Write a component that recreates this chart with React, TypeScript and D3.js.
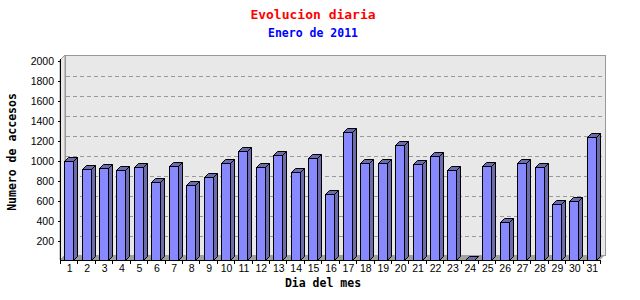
import React from "react";
import * as d3 from "d3";

const days = Array.from({ length: 31 }, (_, i) => String(i + 1));
const visits = [1000, 917, 927, 907, 937, 787, 947, 757, 837, 977, 1097, 937, 1057, 887, 1027, 667, 1287, 977, 977, 1157, 967, 1047, 907, 5, 947, 387, 977, 937, 567, 597, 1237];
const yTicks = [200, 400, 600, 800, 1000, 1200, 1400, 1600, 1800, 2000];
const title = "Evolucion diaria";
const subtitle = "Enero de 2011";
const yTitle = "Numero de accesos";
const xTitle = "Dia del mes";

const W = 640, H = 300;
const L = 60, R = 600, T = 60, B = 260;
const WD = 5; // wall depth
const BD = 4; // bar depth

export default function App() {
  const x = d3.scaleBand<string>().domain(days).range([L, R]).paddingInner(0.48).paddingOuter(0.24);
  const y = d3.scaleLinear().domain([0, 2000]).range([B + 0.5, T + 0.5]);
  const step = x.step();
  const bw = x.bandwidth();
  const mono = "'DejaVu Sans Mono', 'Liberation Mono', monospace";
  const sans = "'Liberation Sans', Arial, sans-serif";
  return (
    <svg width={W} height={H} style={{ position: "absolute", left: 0, top: 0, background: "#fff" }}>
      <rect x={0} y={0} width={W} height={H} fill="#fff" />
      {/* left side wall */}
      <polygon points={`${L},${B} ${L},${T} ${L + WD},${T - WD} ${L + WD},${B - WD}`} fill="#e8e8e8" stroke="#999" />
      {/* back wall */}
      <rect x={L + WD + 0.5} y={T - WD + 0.5} width={R - L} height={B - T} fill="#e8e8e8" stroke="#999" />
      {/* floor */}
      <polygon points={`${L},${B} ${R},${B} ${R + WD},${B - WD} ${L + WD},${B - WD}`} fill="#a0a0a0" />
      {/* gridlines */}
      {yTicks.filter(t => t < 2000).map(t => (
        <line key={t} x1={L + WD + 1} x2={R + WD} y1={Math.round(y(t) - WD) + 0.5} y2={Math.round(y(t) - WD) + 0.5} stroke="#999" strokeDasharray="4,3" />
      ))}
      {/* bars */}
      {days.map((d, i) => {
        const x0 = Math.round(x(d)!) + 0.5;
        const x1 = x0 + Math.round(bw);
        const yt = Math.round(y(visits[i])) + 0.5;
        const yb = B + 0.5;
        return (
          <g key={d} stroke="#000" strokeWidth={1} strokeLinejoin="miter">
            <polygon points={`${x1},${yt} ${x1 + BD},${yt - BD} ${x1 + BD},${yb - BD} ${x1},${yb}`} fill="#6c6cac" />
            <polygon points={`${x0},${yt} ${x0 + BD},${yt - BD} ${x1 + BD},${yt - BD} ${x1},${yt}`} fill="#6c6cac" />
            <rect x={x0} y={yt} width={x1 - x0} height={yb - yt} fill="#8888ff" />
          </g>
        );
      })}
      {/* axes */}
      <line x1={L + 0.5} x2={L + 0.5} y1={T - 1} y2={B + 1} stroke="#000" />
      <line x1={L} x2={R + 1} y1={B + 0.5} y2={B + 0.5} stroke="#000" />
      {yTicks.map(t => (
        <g key={t}>
          <line x1={L - 2} x2={L + 0.5} y1={Math.round(y(t)) + 0.5} y2={Math.round(y(t)) + 0.5} stroke="#000" />
          <text x={54} y={y(t) + 2} textAnchor="end" dominantBaseline="middle" fontFamily={sans} fontSize={10.5} fill="#000">{t}</text>
        </g>
      ))}
      {d3.range(days.length + 1).map(i => (
        <line key={i} x1={Math.round(L + i * step) + 0.5} x2={Math.round(L + i * step) + 0.5} y1={B} y2={B + 4} stroke="#000" />
      ))}
      {days.map(d => (
        <text key={d} x={x(d)! + bw / 2 + 1} y={272} textAnchor="middle" fontFamily={sans} fontSize={10.5} fill="#000">{d}</text>
      ))}
      {/* titles */}
      <text x={313} y={19} textAnchor="middle" fontFamily={mono} fontWeight="bold" fontSize={13} fill="#ff0000">{title}</text>
      <text x={313} y={36.5} textAnchor="middle" fontFamily={mono} fontWeight="bold" fontSize={11.5} fill="#0000ff">{subtitle}</text>
      <text transform="translate(16,152) rotate(-90)" textAnchor="middle" fontFamily={mono} fontWeight="bold" fontSize={11.5} fill="#000">{yTitle}</text>
      <text x={323} y={287} textAnchor="middle" fontFamily={mono} fontWeight="bold" fontSize={11.5} fill="#000">{xTitle}</text>
    </svg>
  );
}
